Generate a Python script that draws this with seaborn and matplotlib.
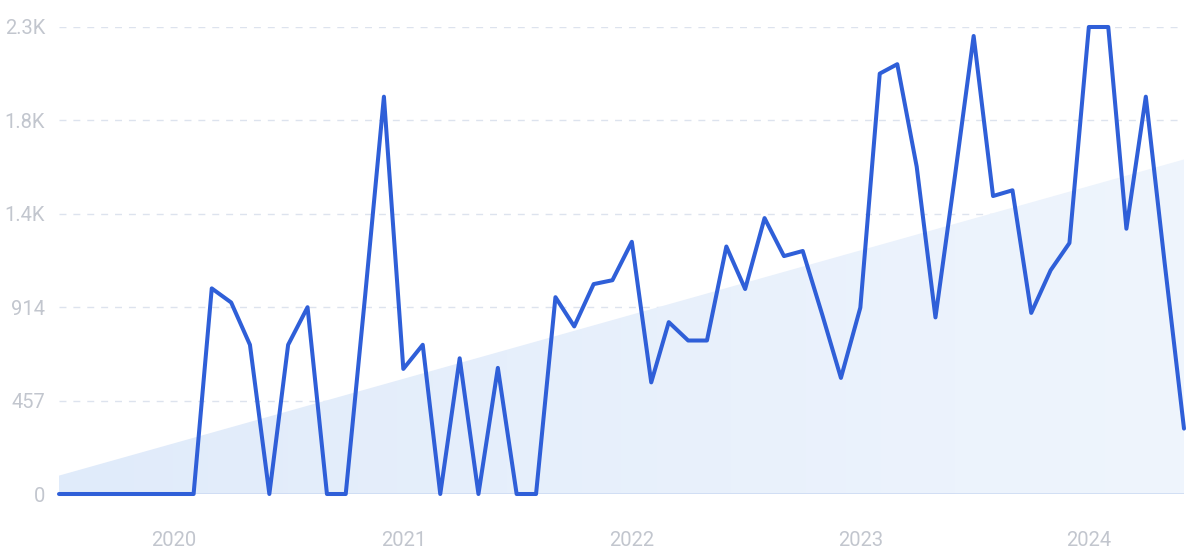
import numpy as np
import pandas as pd
import matplotlib
matplotlib.use('Agg')
import matplotlib.pyplot as plt
import matplotlib.dates as mdates
import seaborn as sns

# Monthly values, Jul 2019 - Jun 2024
months = pd.date_range('2019-07-01', periods=60, freq='MS')
values = [
    0, 0, 0, 0, 0, 0, 0, 0, 1006, 937, 730, 0,
    730, 914, 0, 0, 970, 1944, 612, 730, 0, 664, 0, 617,
    0, 0, 963, 820, 1027, 1046, 1234, 546, 841, 751, 751, 1211,
    1003, 1350, 1164, 1189, 879, 568, 912, 2057, 2103, 1602, 864, 1553,
    2241, 1458, 1486, 886, 1095, 1228, 2285, 2285, 1298, 1944, 1133, 320,
]
# Trend band endpoints (first / last month)
trend_values = [90, 1637]
y_ticks = [0, 457, 914, 1371, 1828, 2285]
y_labels = ['0', '457', '914', '1.4K', '1.8K', '2.3K']
year_ticks = ['2020', '2021', '2022', '2023', '2024']

df = pd.DataFrame({'month': months, 'value': values})

sns.set_style('white')
plt.rcParams['font.family'] = ['Roboto', 'DejaVu Sans']

fig = plt.figure(figsize=(12, 5.59), dpi=100)
ax = fig.add_axes([59 / 1200, 1 - 494 / 559, (1184 - 59) / 1200, (494 - 27) / 559])

# Trend band with a soft horizontal gradient
trend_x = mdates.date2num([months[0], months[-1]])
band = ax.fill_between([months[0], months[-1]], trend_values, 0,
                       color='none', lw=0)
grad = np.linspace(0, 1, 256).reshape(1, -1)
cmap = matplotlib.colors.LinearSegmentedColormap.from_list(
    'band', ['#e0ebfa', '#eff5fd'])
img = ax.imshow(grad, cmap=cmap, aspect='auto', zorder=1,
                extent=[trend_x[0], trend_x[1], 0, y_ticks[-1]])
img.set_clip_path(band.get_paths()[0], transform=ax.transData)

# Grid
for t in y_ticks[1:]:
    ax.axhline(t, color='#dde3ee', lw=1, ls=(0, (5, 5)), zorder=0)
ax.axhline(0, color='#cddbf3', lw=1.2, zorder=2)

sns.lineplot(data=df, x='month', y='value', ax=ax, color='#2f5fd8',
             lw=2.9, zorder=3, clip_on=False)

ax.set_xlim(months[0], months[-1])
ax.set_ylim(0, y_ticks[-1])
ax.set_yticks(y_ticks)
ax.set_yticklabels(y_labels)
ax.set_xticks([pd.Timestamp(f'{y}-01-01') for y in year_ticks])
ax.set_xticklabels(year_ticks)
ax.tick_params(axis='both', length=0, labelsize=14.5, colors='#c2c6ce')
ax.tick_params(axis='y', pad=10)
ax.tick_params(axis='x', pad=27)
ax.set_xlabel('')
ax.set_ylabel('')
for s in ax.spines.values():
    s.set_visible(False)

fig.savefig('out.png', dpi=100)
